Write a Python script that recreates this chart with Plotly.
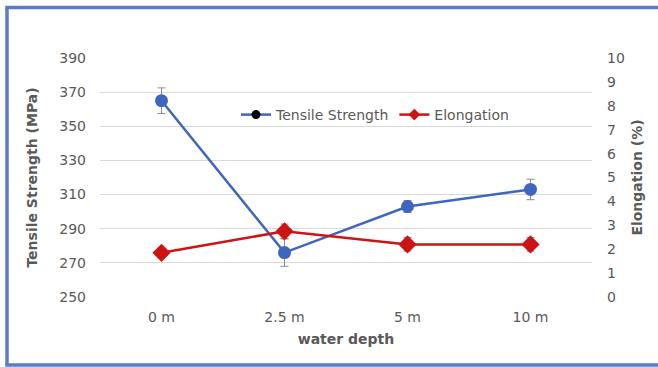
import plotly.graph_objects as go

categories = ["0 m", "2.5 m", "5 m", "10 m"]
tensile = [365, 276, 303, 313]
tensile_err = [7.5, 8, 3.5, 6]
elongation = [1.85, 2.75, 2.2, 2.2]
elongation_err = [0.1, 0.3, 0.28, 0.28]
left_ticks = [250, 270, 290, 310, 330, 350, 370, 390]
right_ticks = list(range(0, 11))

BLUE = "#3f66bf"
RED = "#cc1414"
GRAY = "#595959"
FONT = "DejaVu Sans"

fig = go.Figure()
fig.add_trace(go.Scatter(
    x=categories, y=tensile, mode="lines+markers", showlegend=False,
    line=dict(color=BLUE, width=2.5),
    marker=dict(symbol="circle", size=13, color=BLUE),
    error_y=dict(type="data", array=tensile_err, color="#8c8c8c", thickness=1, width=4),
    yaxis="y"))
fig.add_trace(go.Scatter(
    x=categories, y=elongation, mode="lines+markers", showlegend=False,
    line=dict(color=RED, width=2.5),
    marker=dict(symbol="diamond", size=14, color=RED),
    error_y=dict(type="data", array=elongation_err, color="#8c8c8c", thickness=1, width=4),
    yaxis="y2"))
# legend entries
fig.add_trace(go.Scatter(
    x=[None], y=[None], mode="lines+markers", name="Tensile Strength",
    line=dict(color=BLUE, width=2.5), marker=dict(symbol="circle", size=9, color="black")))
fig.add_trace(go.Scatter(
    x=[None], y=[None], mode="lines+markers", name="Elongation",
    line=dict(color=RED, width=2.5), marker=dict(symbol="diamond", size=9, color=RED),
    yaxis="y2"))

L, R, T, B = 100, 66, 58, 70
W, H = 658, 367
pw, ph = W - L - R, H - T - B

def px_x(x):
    return (x - L) / pw

def px_y(y):
    return (H - B - y) / ph

border = dict(color="#5b7cc4", width=3.5)

fig.update_layout(
    width=W, height=H,
    margin=dict(l=L, r=R, t=T, b=B, autoexpand=False),
    paper_bgcolor="white", plot_bgcolor="white",
    font=dict(family=FONT, size=14, color=GRAY),
    xaxis=dict(type="category", range=[-0.5, 3.5], showgrid=False, showline=False,
               zeroline=False, ticks="", ticklabelstandoff=10,
               title=dict(text="<b>water depth</b>", standoff=10,
                          font=dict(size=14, color=GRAY))),
    yaxis=dict(range=[250, 390], tickvals=left_ticks, showgrid=True, gridcolor="#d9d9d9",
               gridwidth=1, zeroline=False, showline=False, ticks="", ticklabelstandoff=13,
               title=dict(text="<b>Tensile Strength (MPa)</b>", standoff=18,
                          font=dict(size=14, color=GRAY))),
    yaxis2=dict(range=[0, 10], tickvals=right_ticks, overlaying="y", side="right",
                showgrid=False, zeroline=False, showline=False, ticks="", ticklabelstandoff=14,
                title=dict(text="<b>Elongation (%)</b>", standoff=8,
                           font=dict(size=14, color=GRAY))),
    legend=dict(orientation="h", x=px_x(236), y=px_y(115), xanchor="left", yanchor="middle",
                bgcolor="rgba(0,0,0,0)", font=dict(size=14, color=GRAY),
                itemwidth=30, tracegroupgap=0),
    shapes=[
        dict(type="line", xref="paper", yref="paper", x0=px_x(7), x1=px_x(7),
             y0=px_y(365), y1=px_y(7.5), line=border, layer="above"),
        dict(type="line", xref="paper", yref="paper", x0=px_x(5.3), x1=px_x(670),
             y0=px_y(7.5), y1=px_y(7.5), line=border, layer="above"),
        dict(type="line", xref="paper", yref="paper", x0=px_x(5.3), x1=px_x(670),
             y0=px_y(365), y1=px_y(365), line=border, layer="above"),
    ],
)

fig.write_html("out.html")
